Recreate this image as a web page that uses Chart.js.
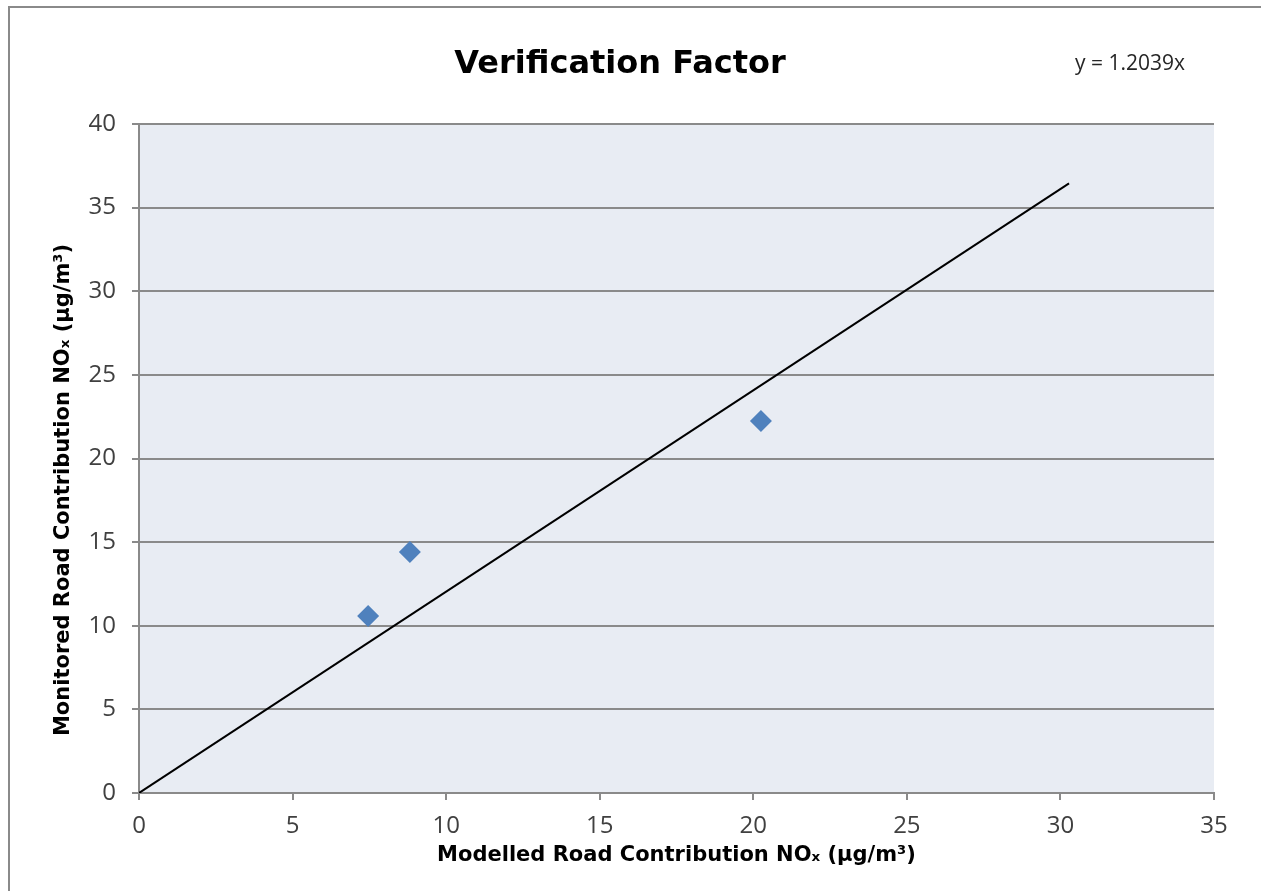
<!DOCTYPE html>
<html><head><meta charset="utf-8">
<script src="https://cdn.jsdelivr.net/npm/chart.js@4"></script>
<style>
html,body{margin:0;padding:0;background:#fff;overflow:hidden;width:1261px;height:891px;}
#frame{position:absolute;left:8px;top:6px;width:1400px;height:1000px;border:2px solid #8a8a8a;z-index:2;pointer-events:none;}
#wrap{position:absolute;left:0;top:0;width:1261px;height:891px;z-index:1;}
</style></head><body>
<div id="frame"></div>
<div id="wrap"><canvas id="c" width="1261" height="891"></canvas></div>
<script>
const chartTitle = 'Verification Factor';
const equationText = 'y = 1.2039x';
const xTitle = 'Modelled Road Contribution NOₓ (µg/m³)';
const yTitle = 'Monitored Road Contribution NOₓ (µg/m³)';
const modelled = [7.46, 8.82, 20.25];
const monitored = [10.58, 14.41, 22.24];
const trendX = [0, 30.28];
const trendY = [0, 36.45];
const xTicks = [0, 5, 10, 15, 20, 25, 30, 35];
const yTicks = [0, 5, 10, 15, 20, 25, 30, 35, 40];

const TICKFONT = "'Open Sans', Lato, 'DejaVu Sans', sans-serif";
const BOLDFONT = "'DejaVu Sans', 'Open Sans', sans-serif";

const bgPlugin = {
  id: 'bg',
  beforeDraw(chart) {
    const {ctx, chartArea: a} = chart;
    ctx.save();
    ctx.fillStyle = '#e8ecf3';
    ctx.fillRect(a.left, a.top, a.right - a.left, a.bottom - a.top);
    ctx.restore();
  },
  afterDraw(chart) {
    const {ctx} = chart;
    ctx.save();
    ctx.fillStyle = '#000';
    ctx.textBaseline = 'middle';
    ctx.textAlign = 'center';
    ctx.font = "bold 32px " + BOLDFONT;
    ctx.fillText(chartTitle, 620, 65);
    // y axis title
    ctx.save();
    ctx.translate(64, 490);
    ctx.rotate(-Math.PI / 2);
    ctx.font = "bold 21px " + BOLDFONT;
    ctx.fillText(yTitle, 0, 0);
    ctx.restore();
    ctx.font = "21px " + TICKFONT;
    ctx.fillStyle = '#262626';
    ctx.textAlign = 'left';
    ctx.fillText(equationText, 1075, 64);
    ctx.restore();
  }
};

new Chart(document.getElementById('c'), {
  type: 'scatter',
  data: {
    datasets: [
      {
        label: 'Points',
        data: modelled.map((x, i) => ({x, y: monitored[i]})),
        pointStyle: 'rectRot',
        pointRadius: 11,
        pointHoverRadius: 11,
        backgroundColor: '#4f81bd',
        borderColor: '#4f81bd',
        borderWidth: 0,
        order: 1
      },
      {
        label: 'Trend',
        type: 'line',
        data: trendX.map((x, i) => ({x, y: trendY[i]})),
        borderColor: '#000',
        borderWidth: 2,
        pointRadius: 0,
        fill: false,
        order: 2
      }
    ]
  },
  options: {
    responsive: false,
    animation: false,
    layout: {padding: {left: 0, right: 47, top: 124, bottom: 0}},
    plugins: {legend: {display: false}, tooltip: {enabled: false}, title: {display: false}},
    scales: {
      x: {
        type: 'linear', min: 0, max: 35,
        afterBuildTicks(s) { s.ticks = xTicks.map(v => ({value: v})); },
        afterFit(s) { s.height = 98; },
        grid: {drawOnChartArea: false, drawTicks: true, tickLength: 7, color: '#8a8a8a', lineWidth: 2},
        border: {color: '#8a8a8a', width: 2},
        ticks: {color: '#404040', font: {family: TICKFONT, size: 24, lineHeight: 1}, padding: 14, maxRotation: 0},
        title: {display: true, text: xTitle, color: '#000', font: {family: BOLDFONT, size: 21, weight: 'bold', lineHeight: 1.2}, padding: {top: 0, bottom: 23}}
      },
      y: {
        type: 'linear', min: 0, max: 40,
        afterBuildTicks(s) { s.ticks = yTicks.map(v => ({value: v})); },
        afterFit(s) { s.width = 139; },
        grid: {drawOnChartArea: true, drawTicks: true, tickLength: 7, color: '#8a8a8a', lineWidth: 2},
        border: {color: '#8a8a8a', width: 2},
        ticks: {color: '#404040', font: {family: TICKFONT, size: 24}, padding: 16},
        title: {display: false}
      }
    }
  },
  plugins: [bgPlugin]
});
</script>
</body></html>
